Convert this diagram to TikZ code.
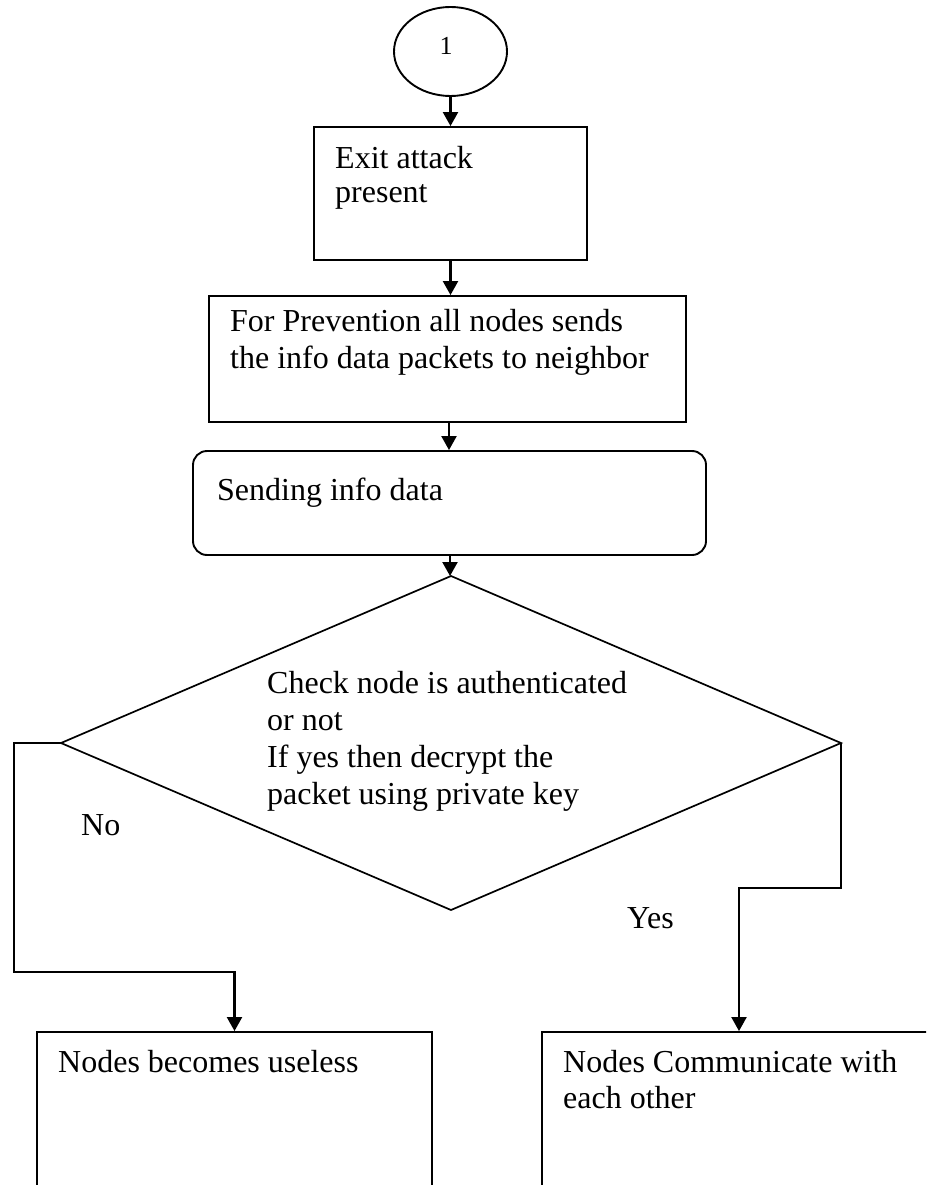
\documentclass[tikz,border=0pt]{standalone}
\usepackage{fontspec}
\setmainfont{Liberation Serif}
\usetikzlibrary{shapes.geometric,arrows.meta}
\newcommand\fsz{\fontsize{32}{37}\selectfont}
\begin{document}
\begin{tikzpicture}[x=1pt,y=-1pt,
  box/.style={draw, line width=1.9pt, rectangle, inner sep=0pt},
  rbox/.style={box, rounded corners=14pt},
  dia/.style={draw, line width=1.7pt, diamond, inner sep=0pt, outer sep=0pt, minimum width=780pt, minimum height=334pt},
  ell/.style={draw, line width=1.9pt, ellipse, inner sep=0pt, minimum width=113pt, minimum height=89pt, font=\fontsize{26}{30}\selectfont},
  txt/.style={anchor=north west, inner sep=0pt, align=left, font=\fsz},
  lbl/.style={anchor=base west, inner sep=0pt, font=\fsz},
  conn/.style={line width=2.2pt, -{Triangle[length=14pt,width=15pt]}}
]
\useasboundingbox (0,0) rectangle (926,1185);
\clip (0,0) rectangle (926,1185);

\node[ell] (e) at (450.5,51.5) {};
\node[inner sep=0pt, font=\fontsize{26}{30}\selectfont] (one) at (446,46) {1};

\node[box, minimum width=273pt, minimum height=133pt] (b1) at (450.5,193.5) {};
\node[box, minimum width=477pt, minimum height=126pt] (b2) at (447.5,359) {};
\node[rbox, minimum width=513pt, minimum height=104pt] (b3) at (449.5,503) {};
\node[dia] (d) at (451,743) {};
\node[box, minimum width=395pt, minimum height=200pt] (b4) at (234.5,1132) {};
\node[box, minimum width=394pt, minimum height=200pt] (b5) at (739,1132) {};

\node[txt] (t1) at (335,146.3) {Exit attack\\[-3pt]present};
\node[txt] (t2) at (230,309.3) {For Prevention all nodes sends\\the info data packets to neighbor};
\node[txt] (t3) at (217,477.3) {Sending info data};
\node[txt] (td) at (267,671.3) {Check node is authenticated\\or not\\If yes then decrypt the\\packet using private key};
\node[txt] (t4) at (58,1050.3) {Nodes becomes useless};
\node[txt] (t5) at (563,1050.3) {Nodes Communicate with\\[-1pt]each other};
\node[lbl] (no) at (81,835) {No};
\node[lbl] (yes) at (627,928) {Yes};

\coordinate (l1) at (14,743);
\coordinate (l2) at (14,972);
\coordinate (l3) at (234.5,972);
\coordinate (r2) at (739,888);

\draw[conn] (e.south) -- (e.south |- b1.north);
\draw[conn] (b1.south) -- (b1.south |- b2.north);
\draw[conn] (449,422) coordinate (a2) -- (a2 |- b3.north);
\draw[conn] (450,555) coordinate (a3) -- (a3 |- d.north);
\draw[conn] (d.west) -- (l1) -- (l2) -- (l3) -- (b4.north);
\draw[conn] (d.east) -- (d.east |- r2) -- (r2) -- (b5.north);
\end{tikzpicture}
\end{document}
